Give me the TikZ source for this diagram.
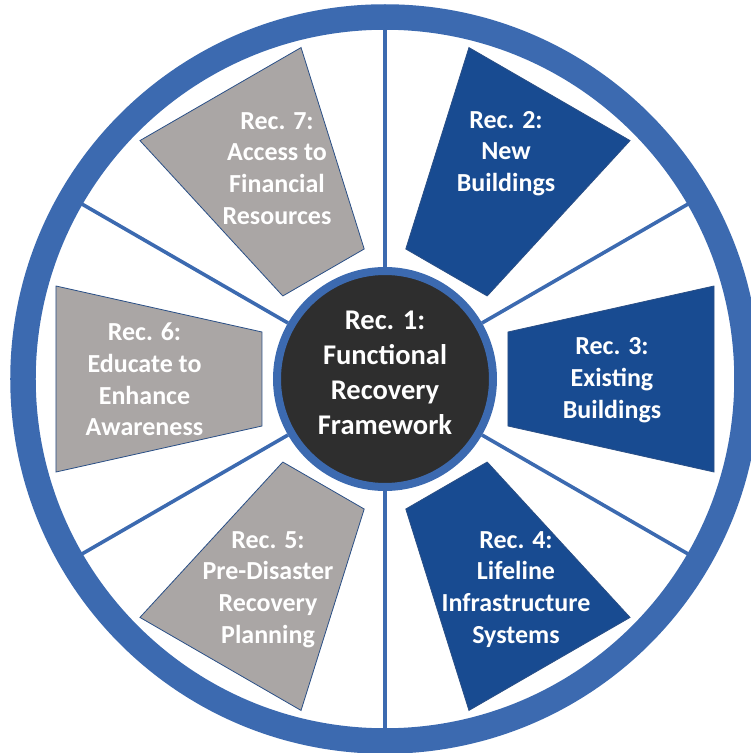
\documentclass[tikz,border=0pt]{standalone}
\usepackage{fontspec}
\setmainfont{Carlito}
\definecolor{ringblue}{HTML}{3C6AB0}
\definecolor{deepblue}{HTML}{184B91}
\definecolor{recgray}{HTML}{AAA6A5}
\definecolor{hubdark}{HTML}{2E2E2E}
\definecolor{edgeblue}{HTML}{2A4F86}
\tikzset{
  x=1pt, y=1pt,
  ring/.style={draw=ringblue, line width=25.5pt},
  spoke/.style={draw=ringblue, line width=3.6pt},
  bluepanel/.style={fill=deepblue, draw=edgeblue, line width=0.8pt},
  graypanel/.style={fill=recgray, draw=edgeblue, line width=0.8pt},
  rectext/.style={text=white, align=center, font=\bfseries\fontsize{26}{31.8}\selectfont, inner sep=0pt},
  hubstyle/.style={circle, fill=hubdark, draw=ringblue, line width=8pt, minimum size=216pt, inner sep=0pt}
}
\begin{document}
\begin{tikzpicture}
\useasboundingbox (-385,-374) rectangle (366,379);
% outer ring
\draw[ring] (0,0) circle (362);
% panels
\foreach \ang/\sty in {60/bluepanel, 0/bluepanel, -60/bluepanel, -120/graypanel, 180/graypanel, 120/graypanel}{
  \begin{scope}[rotate=\ang]
    \path[\sty] (123,47) -- (329,93) -- (329,-93) -- (123,-47) -- cycle;
  \end{scope}
}
% hub
\node[hubstyle] (hub) at (0,0) {};
\node[text=white, align=center, font=\bfseries\fontsize{28.5}{35}\selectfont, inner sep=0pt] (rec1) at (0,6.5) {Rec. 1:\\Functional\\Recovery\\Framework};
% spokes
\foreach \ang in {30,90,150,210,270,330}{
  \coordinate (rim\ang) at (\ang:350);
  \draw[spoke] (hub.\ang) -- (rim\ang);
}
% labels
\node[rectext] (rec2) at (121,225.5) {Rec. 2:\\New\\Buildings};
\node[rectext] (rec3) at (227,-1) {Rec. 3:\\Existing\\Buildings};
\node[rectext] (rec4) at (131,-210.5) {Rec. 4:\\Lifeline\\Infrastructure\\Systems};
\node[rectext] (rec5) at (-117,-210.5) {Rec. 5:\\Pre-Disaster\\Recovery\\Planning};
\node[rectext] (rec6) at (-240.5,-0.5) {Rec. 6:\\Educate to\\Enhance\\Awareness};
\node[rectext] (rec7) at (-108,210.5) {Rec. 7:\\Access to\\Financial\\Resources};
\end{tikzpicture}
\end{document}
